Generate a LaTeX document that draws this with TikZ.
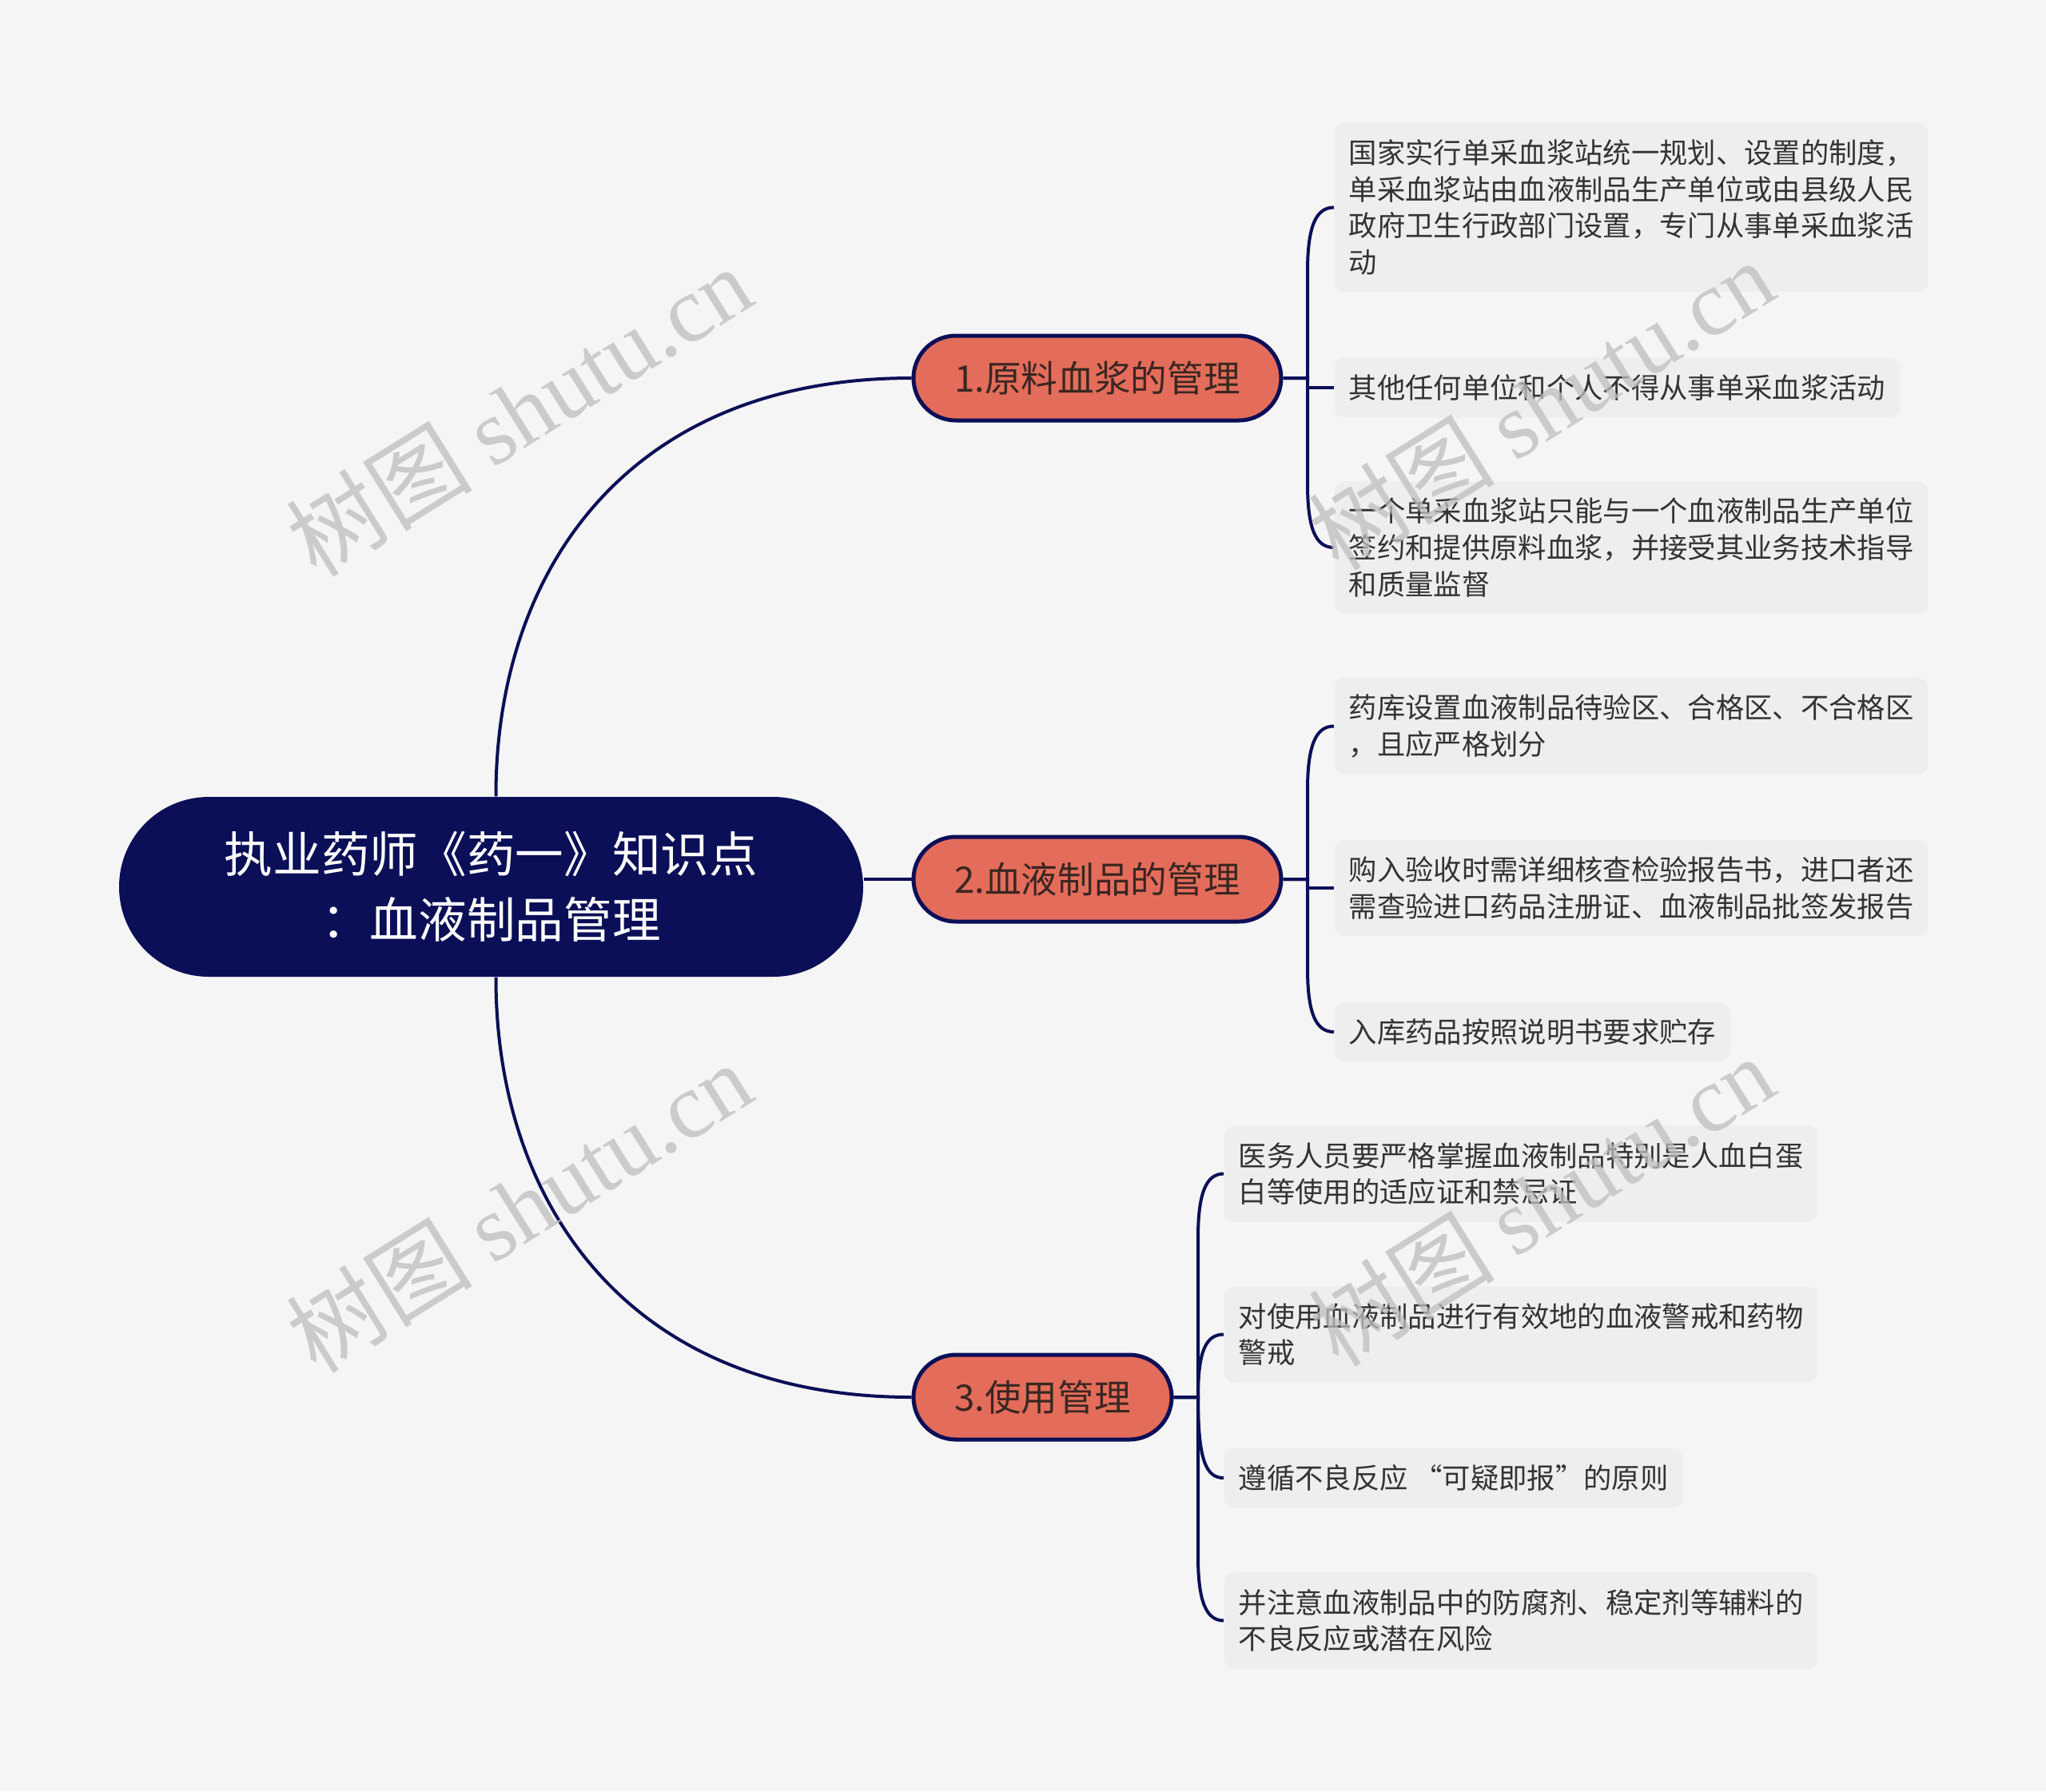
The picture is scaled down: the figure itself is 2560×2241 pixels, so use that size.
\documentclass[tikz,border=0pt]{standalone}
\usepackage{fontspec}
\setmainfont{Noto Sans CJK SC}
\newfontfamily\wmlatin{Liberation Serif}
\usetikzlibrary{calc}
\definecolor{bg}{HTML}{F5F5F5}
\definecolor{navy}{HTML}{0B0F57}
\definecolor{salmon}{HTML}{E36D5A}
\definecolor{leaffill}{HTML}{EEEEEE}
\definecolor{leaftext}{HTML}{333333}
\definecolor{brtext}{HTML}{3B2622}
\definecolor{wm}{HTML}{BEBEBE}
\begin{document}
\begin{tikzpicture}[x=0.3pt,y=-0.3pt,
  rootbox/.style={fill=navy, rounded corners=33.7pt, minimum width=279.3pt, minimum height=67.5pt, text=white, align=center, font=\fontsize{18.2}{24.5}\selectfont, inner sep=0pt},
  branchbox/.style={fill=salmon, draw=navy, line width=1.5pt, rounded corners=15.9pt, minimum height=31.8pt, text=brtext, font=\fontsize{13.7}{16}\selectfont, inner sep=0pt},
  leafbox/.style={fill=leaffill, rounded corners=4pt, align=left, anchor=west, inner xsep=5.4pt, inner ysep=6.3pt, text=leaftext, font=\fontsize{10.6}{13.7}\selectfont},
  link/.style={draw=navy, line width=1.2pt},
  wmark/.style={text=wm, rotate=32, font=\fontsize{35}{38}\selectfont, opacity=0.75}
]
\fill[bg] (0,0) rectangle (2560,2241);

% root and branches
\node[rootbox] (root) at (614.5,1109.5) {执业药师《药一》知识点\\：血液制品管理};
\node[branchbox, minimum width=138pt] (b1) at (1373,473) {1.原料血浆的管理};
\node[branchbox, minimum width=138pt] (b2) at (1373,1100) {2.血液制品的管理};
\node[branchbox, minimum width=96.9pt] (b3) at (1304.5,1748) {3.使用管理};

% leaves
\node[leafbox] (l1a) at (1669,259.5) {国家实行单采血浆站统一规划、设置的制度，\\单采血浆站由血液制品生产单位或由县级人民\\政府卫生行政部门设置，专门从事单采血浆活\\动};
\node[leafbox] (l1b) at (1669,485) {其他任何单位和个人不得从事单采血浆活动};
\node[leafbox] (l1c) at (1669,685) {一个单采血浆站只能与一个血液制品生产单位\\签约和提供原料血浆，并接受其业务技术指导\\和质量监督};
\node[leafbox] (l2a) at (1669,908.5) {药库设置血液制品待验区、合格区、不合格区\\，且应严格划分};
\node[leafbox] (l2b) at (1669,1111) {购入验收时需详细核查检验报告书，进口者还\\需查验进口药品注册证、血液制品批签发报告};
\node[leafbox] (l2c) at (1669,1291) {入库药品按照说明书要求贮存};
\node[leafbox] (l3a) at (1531,1468.5) {医务人员要严格掌握血液制品特别是人血白蛋\\白等使用的适应证和禁忌证};
\node[leafbox] (l3b) at (1531,1669.5) {对使用血液制品进行有效地的血液警戒和药物\\警戒};
\node[leafbox] (l3c) at (1531,1849) {遵循不良反应 “可疑即报”的原则};
\node[leafbox] (l3d) at (1531,2027.5) {并注意血液制品中的防腐剂、稳定剂等辅料的\\不良反应或潜在风险};

% root connectors
\draw[link] ([xshift=1.8pt]root.north) .. controls (620,720) and (780,473) .. (b1.west);
\draw[link] (root.east |- b2.west) -- (b2.west);
\draw[link] ([xshift=1.8pt]root.south) .. controls (620,1499) and (780,1748) .. (b3.west);

% branch 1 connectors
\draw[link] (b1.east) -- (1636,473) -- (1636,340) .. controls (1636,284) and (1646,259.5) .. (l1a.west);
\draw[link] (b1.east) -- (1636,473) -- (1636,485) -- (l1b.west);
\draw[link] (b1.east) -- (1636,473) -- (1636,605) .. controls (1636,661) and (1646,685) .. (l1c.west);
% branch 2 connectors
\draw[link] (b2.east) -- (1636,1100) -- (1636,989) .. controls (1636,933) and (1646,908.5) .. (l2a.west);
\draw[link] (b2.east) -- (1636,1100) -- (1636,1111) -- (l2b.west);
\draw[link] (b2.east) -- (1636,1100) -- (1636,1211) .. controls (1636,1267) and (1646,1291) .. (l2c.west);
% branch 3 connectors
\draw[link] (b3.east) -- (1499,1748) -- (1499,1549) .. controls (1499,1493) and (1509,1468.5) .. (l3a.west);
\draw[link] (b3.east) -- (1499,1748) .. controls (1499,1690) and (1509,1669.5) .. (l3b.west);
\draw[link] (b3.east) -- (1499,1748) .. controls (1499,1827) and (1509,1849) .. (l3c.west);
\draw[link] (b3.east) -- (1499,1748) -- (1499,1947) .. controls (1499,2003) and (1509,2027.5) .. (l3d.west);

% watermarks
\node[wmark] (wm1) at (649,514) {树图 {\wmlatin shutu.cn}};
\node[wmark] (wm2) at (1928,506) {树图 {\wmlatin shutu.cn}};
\node[wmark] (wm3) at (649,1510) {树图 {\wmlatin shutu.cn}};
\node[wmark] (wm4) at (1928,1502) {树图 {\wmlatin shutu.cn}};
\end{tikzpicture}
\end{document}
